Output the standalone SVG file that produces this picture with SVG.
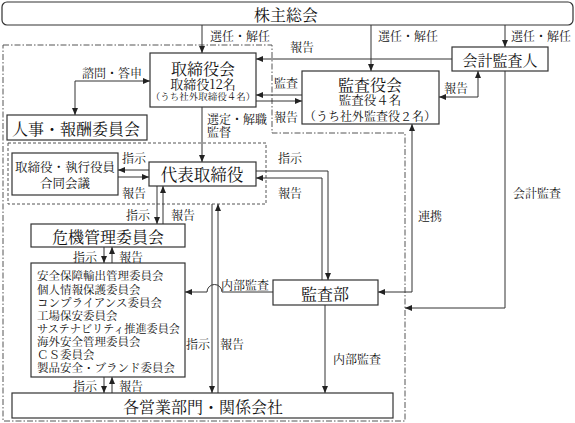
<svg xmlns="http://www.w3.org/2000/svg" width="575" height="423" viewBox="0 0 575 423">
<defs>
<style>
text{font-family:"Noto Serif CJK JP","Liberation Serif","Noto Sans CJK JP",serif;fill:#111;text-anchor:middle;dominant-baseline:central}
.box{fill:#fff;stroke:#333;stroke-width:1.2}
.ln{fill:none;stroke:#333;stroke-width:1}
.a1{marker-end:url(#arr)}
.a2{marker-end:url(#arr);marker-start:url(#arr)}
.lb{font-size:12px}
.t16{font-size:16px}
.cm{font-size:11.5px;text-anchor:start}
</style>
<marker id="arr" viewBox="0 0 7 6" refX="7" refY="3" markerWidth="7" markerHeight="6" markerUnits="userSpaceOnUse" orient="auto-start-reverse">
<path d="M0,0 L7,3 L0,6 z" fill="#222"/>
</marker>
</defs>
<rect width="575" height="423" fill="#fff"/>

<!-- boundaries -->
<path d="M3,45 H272 V133 H405 V421 H3 Z" fill="none" stroke="#555" stroke-width="1" stroke-dasharray="6,2,1.5,2"/>
<rect x="8" y="143" width="258" height="61" fill="none" stroke="#555" stroke-width="1" stroke-dasharray="3,2"/>

<g id="connectors">
<path class="ln a1" d="M202,25 V53"/>
<path class="ln a1" d="M371,25 V71"/>
<path class="ln a1" d="M505,25 V47"/>
<path class="ln a1" d="M452,59 H256"/>
<path class="ln a1" d="M302,95 H256"/>
<path class="ln a1" d="M256,101 H302"/>
<path class="ln a2" d="M478,71 V97 H439"/>
<path class="ln a1" d="M505,71 V308 H405"/>
<path class="ln a2" d="M412,124 V292 H378"/>
<path class="ln a1" d="M202,107 V162"/>
<path class="ln a2" d="M150,81 H75 V115"/>
<path class="ln a1" d="M149,170 H118"/>
<path class="ln a1" d="M118,177 H149"/>
<path class="ln a1" d="M157,186 V224"/>
<path class="ln a1" d="M163,224 V186"/>
<path class="ln a1" d="M104,247 V263"/>
<path class="ln a1" d="M112,263 V247"/>
<path class="ln a1" d="M104,377 V393"/>
<path class="ln a1" d="M112,393 V377"/>
<path class="ln a1" d="M212,204 V393"/>
<path class="ln a1" d="M218,393 V204"/>
<path class="ln a1" d="M256,171 H328 V280"/>
<path class="ln a1" d="M322,280 V178 H256"/>
<path class="ln a1" d="M325,305 V393"/>
<path class="ln a1" d="M273,292 H222 A7.5,7.5 0 0 0 207,292 H185"/>

<text class="lb" x="240" y="35">選任・解任</text>
<text class="lb" x="408" y="35">選任・解任</text>
<text class="lb" x="541" y="35">選任・解任</text>
<text class="lb" x="302" y="46">報告</text>
<text class="lb" x="286" y="82">監査</text>
<text class="lb" x="286" y="116">報告</text>
<text class="lb" x="456" y="87">報告</text>
<text class="lb" x="537" y="192">会計監査</text>
<text class="lb" x="430" y="215">連携</text>
<text class="lb" style="text-anchor:start"><tspan x="207" y="118">選定・解職</tspan><tspan x="207" y="131">監督</tspan></text>
<text class="lb" x="112" y="72">諮問・答申</text>
<text class="lb" x="134" y="157">指示</text>
<text class="lb" x="134" y="192">報告</text>
<text class="lb" x="138" y="214">指示</text>
<text class="lb" x="183" y="214">報告</text>
<text class="lb" x="85" y="256">指示</text>
<text class="lb" x="131" y="256">報告</text>
<text class="lb" x="85" y="385">指示</text>
<text class="lb" x="131" y="385">報告</text>
<text class="lb" x="198" y="343">指示</text>
<text class="lb" x="232" y="343">報告</text>
<text class="lb" x="290" y="157">指示</text>
<text class="lb" x="290" y="192">報告</text>
<text class="lb" x="245" y="284">内部監査</text>
<text class="lb" x="357" y="358">内部監査</text>
</g>

<g id="shareholders">
<rect class="box" x="2" y="2" width="571" height="23" rx="5"/>
<text class="t16" x="286" y="14">株主総会</text>
</g>
<g id="board">
<rect class="box" x="150" y="53" width="106" height="54"/>
<text><tspan x="203" y="68" style="font-size:16px">取締役会</tspan><tspan x="203" y="83" style="font-size:13px">取締役12名</tspan><tspan x="203" y="96" style="font-size:9.5px">（うち社外取締役４名）</tspan></text>
</g>
<g id="auditboard">
<rect class="box" x="302" y="71" width="137" height="53"/>
<text><tspan x="370" y="84" style="font-size:16px">監査役会</tspan><tspan x="370" y="100" style="font-size:12.5px">監査役４名</tspan><tspan x="370" y="115" style="font-size:12px">（うち社外監査役２名）</tspan></text>
</g>
<g id="accountant">
<rect class="box" x="452" y="47" width="96" height="24"/>
<text x="500" y="59" style="font-size:15px">会計監査人</text>
</g>
<g id="nomination">
<rect class="box" x="7" y="115" width="140" height="25"/>
<text class="t16" x="76" y="128">人事・報酬委員会</text>
</g>
<g id="jointmeeting">
<rect class="box" x="12" y="153" width="106" height="42"/>
<text style="font-size:12.5px"><tspan x="65" y="167">取締役・執行役員</tspan><tspan x="65" y="183">合同会議</tspan></text>
</g>
<g id="president">
<rect class="box" x="149" y="162" width="107" height="24"/>
<text x="202" y="174" style="font-size:16.5px">代表取締役</text>
</g>
<g id="risk">
<rect class="box" x="31" y="224" width="154" height="23"/>
<text class="t16" x="108" y="236">危機管理委員会</text>
</g>
<g id="committees">
<rect class="box" x="31" y="263" width="154" height="114"/>
<text class="cm"><tspan x="37" y="275">安全保障輸出管理委員会</tspan><tspan x="37" y="289">個人情報保護委員会</tspan><tspan x="37" y="302">コンプライアンス委員会</tspan><tspan x="37" y="315">工場保安委員会</tspan><tspan x="37" y="328" textLength="143" lengthAdjust="spacingAndGlyphs">サステナビリティ推進委員会</tspan><tspan x="37" y="341">海外安全管理委員会</tspan><tspan x="37" y="354">ＣＳ委員会</tspan><tspan x="37" y="367">製品安全・ブランド委員会</tspan></text>
</g>
<g id="business">
<rect class="box" x="12" y="393" width="381" height="25"/>
<text class="t16" x="203" y="406">各営業部門・関係会社</text>
</g>
<g id="auditdept">
<rect class="box" x="273" y="280" width="105" height="25"/>
<text class="t16" x="325" y="293">監査部</text>
</g>
</svg>
